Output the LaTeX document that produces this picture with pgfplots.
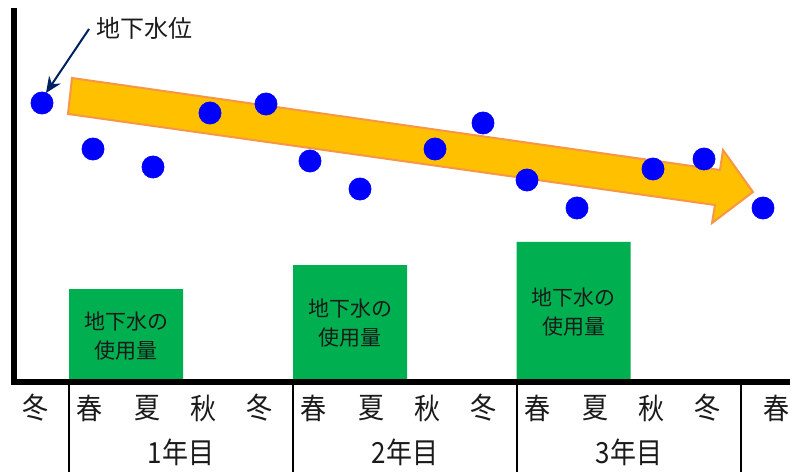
\documentclass[border=0pt]{standalone}
\usepackage{pgfplots}
\pgfplotsset{compat=1.18}
\usetikzlibrary{arrows.meta}
\usepackage{graphicx}
\usepackage{fontspec}
\setmainfont{Noto Sans CJK JP}
\definecolor{barg}{HTML}{00B050}
\definecolor{arrfill}{HTML}{FFC000}
\definecolor{arredge}{HTML}{F79646}
\definecolor{navy}{HTML}{002060}
\definecolor{dotb}{HTML}{0000FF}
\definecolor{txt}{HTML}{1A1A1A}
\tikzset{
  season/.style={text=txt, font=\fontsize{13bp}{15bp}\selectfont},
  barlab/.style={align=center, text=txt, font=\fontsize{10.5bp}{14.5bp}\selectfont},
}
\newcommand{\tall}[1]{\scalebox{1}[1.12]{#1}}
\begin{document}
\begin{tikzpicture}
\begin{axis}[
  scale only axis, width=388bp, height=185.5bp,
  xmin=14, xmax=790, ymin=0, ymax=371,
  axis x line=bottom, axis y line=left,
  axis line style={line width=3bp, -, line cap=rect},
  xtick=\empty, ytick=\empty,
  clip=false, axis on top=true,
]
% water use bars
\addplot[ybar, bar width=57bp, fill=barg, draw=none] coordinates {(126,93) (350,117) (573.5,140)};
% trend arrow
\addplot[fill=arrfill, draw=arredge, line width=1bp, line join=miter] coordinates {(72,304) (720,212) (723,232) (753,190) (712,159) (715,177) (68,268)} -- cycle;
% groundwater level
\addplot[only marks, mark=*, mark size=5.5bp, color=dotb, mark options={fill=dotb, draw=dotb}] coordinates {
(42,279) (93,233) (153,215) (210,269) (266,278) (310,221) (360,193)
(435,233) (483,259) (527,202) (577,174) (653,213) (704,223) (763,174)};
% bar labels
\node[barlab] at (axis cs:126,46) {地下水の\\使用量};
\node[barlab] at (axis cs:350,59) {地下水の\\使用量};
\node[barlab] at (axis cs:573.5,70) {地下水の\\使用量};
% annotation
\node[anchor=west, inner sep=0pt, text=txt, font=\fontsize{12bp}{14bp}\selectfont] at (axis cs:96,354) {地下水位};
\draw[navy, line width=1bp, -{Stealth[length=8bp,width=7bp]}] (axis cs:89,353) -- (axis cs:46,289);
% separators
\draw[line width=1bp] (axis cs:69,-3) -- (axis cs:69,-90);
\draw[line width=1bp] (axis cs:293,-3) -- (axis cs:293,-90);
\draw[line width=1bp] (axis cs:517,-3) -- (axis cs:517,-90);
\draw[line width=1bp] (axis cs:741,-3) -- (axis cs:741,-90);
% season labels
\node[season] at (axis cs:35,-26) {\tall{冬}};
\node[season] at (axis cs:89,-26) {\tall{春}};
\node[season] at (axis cs:147,-26) {\tall{夏}};
\node[season] at (axis cs:203,-26) {\tall{秋}};
\node[season] at (axis cs:259,-26) {\tall{冬}};
\node[season] at (axis cs:313,-26) {\tall{春}};
\node[season] at (axis cs:371,-26) {\tall{夏}};
\node[season] at (axis cs:427,-26) {\tall{秋}};
\node[season] at (axis cs:483,-26) {\tall{冬}};
\node[season] at (axis cs:537,-26) {\tall{春}};
\node[season] at (axis cs:595,-26) {\tall{夏}};
\node[season] at (axis cs:651,-26) {\tall{秋}};
\node[season] at (axis cs:707,-26) {\tall{冬}};
\node[season] at (axis cs:776,-26) {\tall{春}};
% year labels
\node[season] at (axis cs:181,-70) {\tall{1年目}};
\node[season] at (axis cs:405,-70) {\tall{2年目}};
\node[season] at (axis cs:629,-70) {\tall{3年目}};
\coordinate (BL) at (axis cs:0,-90);
\coordinate (TR) at (axis cs:790,382);
\end{axis}
\pgfresetboundingbox
\path[use as bounding box] (BL) rectangle (TR);
\end{tikzpicture}
\end{document}
